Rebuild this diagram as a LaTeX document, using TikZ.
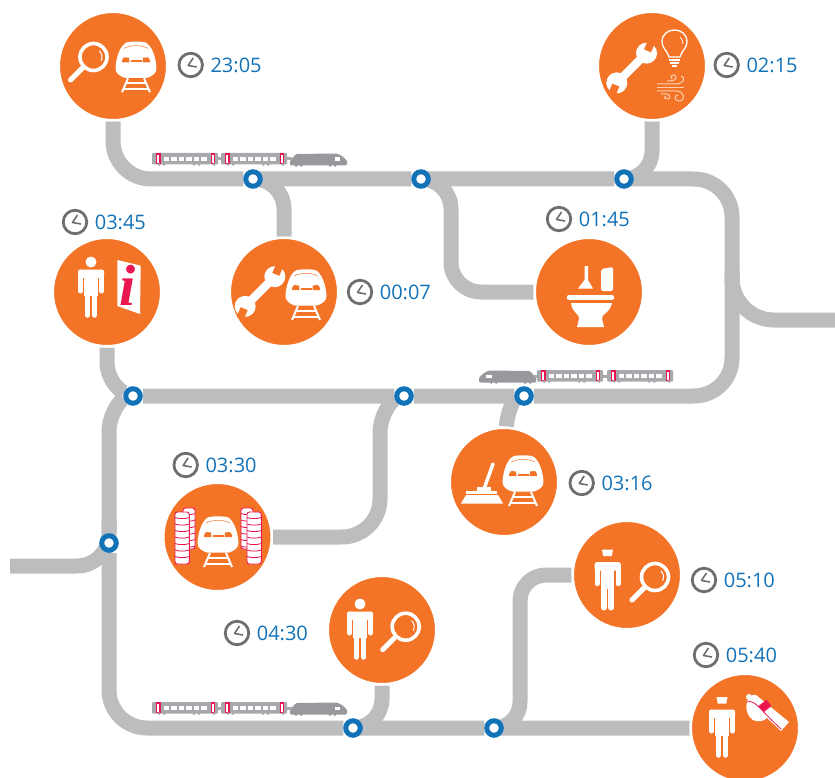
\documentclass[tikz,border=0pt]{standalone}
\usepackage{fontspec}
\setmainfont{Open Sans}
\newfontfamily\posterfont{Liberation Serif}
\usetikzlibrary{positioning,backgrounds}

\definecolor{stoporange}{HTML}{F47427}
\definecolor{trackgrey}{HTML}{BCBDBF}
\definecolor{hubblue}{HTML}{1272B8}
\definecolor{clockgrey}{HTML}{6D6E70}
\definecolor{cargrey}{HTML}{A7A9AC}
\definecolor{locogrey}{HTML}{98999C}
\definecolor{doorpink}{HTML}{E9164F}
\definecolor{windpeach}{HTML}{FBCFB0}

\tikzstyle{stop}=[circle,draw=white,fill=stoporange,line width=2.5pt,minimum size=108.5pt,inner sep=0pt]
\tikzstyle{hub}=[circle,draw=hubblue,fill=white,line width=5pt,minimum size=14.5pt,inner sep=0pt]
\tikzstyle{track}=[draw=trackgrey,line width=15pt,line join=round]
\tikzstyle{limb}=[white,line width=5.5pt,line cap=round]
\tikzstyle{timetext}=[text=hubblue,font=\fontsize{20}{20}\selectfont,inner sep=0pt]
\tikzstyle{clockface}=[circle,draw=clockgrey,line width=2.8pt,minimum size=23.5pt,inner sep=0pt,
  path picture={\draw[clockgrey,line width=1.6pt,line join=round] (path picture bounding box.center) +(2.5,-7) -- +(-2.5,0.5) -- +(6,2);}]

\tikzset{
  body/.pic={
    \fill[white,rounded corners=2.5pt] (-13,7.5) rectangle (13,16);
    \fill[white] (-6.7,9) rectangle (6.7,34);
    \draw[limb,line width=5pt] (-10.5,10) -- (-10.5,29) (10.5,10) -- (10.5,29);
    \draw[limb] (-3.7,30) -- (-3.7,53) (3.7,30) -- (3.7,53);
    \draw[stoporange,line width=1pt] (-7.5,16) -- (-7.5,32) (7.5,16) -- (7.5,32) (0,36) -- (0,58);
  },
  person/.pic={
    \pic {body};
    \fill[white] (0,0) circle (5.5);
  },
  guard/.pic={
    \pic {body};
    \fill[white] (-5.5,-5) -- (5.5,-5) -- (4.5,0.5) -- (-4.5,0.5) -- cycle;
    \fill[white] (-4.5,1.5) -- (4.5,1.5) arc (0:-180:4.5 and 4.5) -- cycle;
  },
  lens/.pic={
    \draw[white,line width=3.6pt] (0,0) circle (13.5);
    \draw[white,line width=5pt,line cap=round] (-11,11) -- (-23,23);
    \draw[white,line width=1pt,line cap=round] (6,-6) arc (-45:25:8.5);
  },
  spanner/.pic={
    \fill[white] (-18,-4.2) rectangle (18,4.2);
    \fill[white] (21,0) circle (10.5) (-21,0) circle (10.5);
    \fill[stoporange,rotate around={22:(21,0)}] (23.5,-3.8) rectangle (34,3.8);
    \fill[stoporange,rotate around={22:(-21,0)}] (-23.5,-3.8) rectangle (-34,3.8);
  },
  trainfront/.pic={
    \fill[white] (-9,0) .. controls (-15,2) and (-20,14) .. (-20.5,26) .. controls (-20.5,31) and (-16,34) .. (-11,35.5)
      -- (11,35.5) .. controls (16,34) and (20.5,31) .. (20.5,26) .. controls (20,14) and (15,2) .. (9,0) .. controls (3,-1) and (-3,-1) .. (-9,0) -- cycle;
    \fill[stoporange] (-14,18) -- (-12,15) -- (-7,15.5) -- (-6.5,20) -- (-14,20) -- cycle;
    \fill[stoporange] (14,18) -- (12,15) -- (7,15.5) -- (6.5,20) -- (14,20) -- cycle;
    \fill[stoporange] (-5.5,17.5) rectangle (5.5,20);
    \draw[stoporange,line width=.5pt] (-12,6) .. controls (-5,2.5) and (5,2.5) .. (12,6);
    \draw[white,line width=2pt] (-8,36) -- (-14,50) (8,36) -- (14,50);
    \draw[white,line width=2pt] (-11,41) -- (11,41) (-13,47) -- (13,47);
  },
  carriage/.pic={
    \fill[cargrey,rounded corners=1pt] (0,0) rectangle (66,11.5);
    \foreach \wx in {0,...,5} {
      \fill[white] ({11.5+\wx*7.5},4) rectangle +(5.8,3.6);
    }
    \foreach \dx in {4.3,59.2} {
      \filldraw[fill=white,draw=doorpink,line width=1.3pt] (\dx,1) rectangle +(3.6,9.3);
    }
    \foreach \wh in {7,12,42,47,62} {
      \fill[cargrey] (\wh,11.5) circle (1.5);
    }
  },
  loco/.pic={
    \fill[locogrey] (0,12) -- (0,8.5) .. controls (2,6) and (4,2) .. (7,1) -- (46,0.5) .. controls (50,1) and (55,5) .. (57,8) -- (57,11) .. controls (57,12) and (56,12.5) .. (55,12.5) -- (2,12.5) -- cycle;
    \fill[white] (44.5,4.5) rectangle +(5.5,3.8);
    \foreach \wh in {6,11,40,45} {
      \fill[locogrey] (\wh,12.5) circle (1.5);
    }
  }
}

\begin{document}
\begin{tikzpicture}[x=1pt,y=-1pt]
  \useasboundingbox (0,0) rectangle (835,778);
  % Stops
  \node[stop] (search) at (113,66) {};
  \node[stop] (repair) at (652,66) {};
  \node[stop] (workshop) at (284,292) {};
  \node[stop] (toilet) at (589,292) {};
  \node[stop] (info) at (107,292) {};
  \node[stop] (wash) at (217.5,537) {};
  \node[stop] (sweep) at (504,482) {};
  \node[stop] (inspect) at (627,575) {};
  \node[stop] (walk) at (382,630) {};
  \node[stop] (depart) at (745,728) {};
  % Hubs
  \node[hub] (hubA) at (253,179) {};
  \node[hub] (hubB) at (421,179) {};
  \node[hub] (hubC) at (624,179) {};
  \node[hub] (hubD) at (133,396) {};
  \node[hub] (hubE) at (404,396) {};
  \node[hub] (hubF) at (524,396) {};
  \node[hub] (hubG) at (109,543) {};
  \node[hub] (hubH) at (353,728) {};
  \node[hub] (hubI) at (494,728) {};
  % Bends and free ends
  \coordinate (neBend) at (732,179);
  \coordinate (seBend) at (732,396);
  \coordinate (nwTop) at (109,432);
  \coordinate (infoFoot) at (107,362);
  \coordinate (swBend) at (109,728);
  \coordinate (eastEnd) at (835,320);
  \coordinate (eastTop) at (732,270);
  \coordinate (westEnd) at (10,566);
  \coordinate (westTop) at (109,520);
  \coordinate (toiletBend) at (451,292);
  \coordinate (washTop) at (380,433);
  \coordinate (washBend) at (380,537);
  \coordinate (inspectBend) at (520,575);
  % Tracks
  \begin{scope}[on background layer]
    \draw[track,rounded corners=38pt] (search) |- (hubA) -- (hubB) -- (hubC) -- (neBend) -- (seBend) -- (hubF) -- (hubE) -- (hubD);
    \draw[track] (hubD) .. controls (120,400) and (109,415) .. (nwTop) -- (hubG);
    \draw[track,rounded corners=38pt] (hubG) -- (swBend) -- (hubH) -- (hubI) -- (depart);
    \draw[track,rounded corners=28pt] (repair) |- (hubC);
    \draw[track,rounded corners=30pt] (hubA) -| (workshop);
    \draw[track,rounded corners=30pt] (hubB) -| (toiletBend) -- (toilet);
    \draw[track] (info) -- (infoFoot) .. controls (107,378) and (118,390) .. (hubD);
    \draw[track] (hubE) .. controls (392,400) and (380,415) .. (washTop);
    \draw[track,rounded corners=38pt] (washTop) -- (washBend) -- (wash);
    \draw[track] (hubF) .. controls (515,398) and (507,412) .. (sweep);
    \draw[track,rounded corners=29pt] (hubH) -| (walk);
    \draw[track,rounded corners=26pt] (hubI) -| (inspectBend) [rounded corners=40pt] -- (inspect);
    \draw[track,rounded corners=42pt] (eastEnd) -| (eastTop);
    \draw[track,rounded corners=32pt] (westEnd) -| (westTop);
  \end{scope}
  % Trains
  \foreach \ty in {153,702} {
    \pic at (152,\ty) {carriage};
    \pic at (221,\ty) {carriage};
    \pic at (290,\ty) {loco};
    \fill[cargrey] (217,\ty+4.5) rectangle +(5,3);
    \fill[cargrey] (287,\ty+4.5) rectangle +(5,3);
  }
  \pic[xscale=-1] at (536,370) {loco};
  \pic at (537,370) {carriage};
  \pic at (607,370) {carriage};
  \fill[cargrey] (534,374.5) rectangle +(5,3);
  \fill[cargrey] (603,374.5) rectangle +(5,3);
  % Clocks and times
  \foreach \nm/\cx/\cy/\tm in {A/190.7/65/23:05,B/726.7/65/02:15,C/360/292/00:07,D/559/219/01:45,E/75/222/03:45,F/185.7/465/03:30,G/581.7/483/03:16,H/704/580/05:10,I/237/633/04:30,J/706/655/05:40} {
    \node[clockface] (clk\nm) at (\cx,\cy) {};
    \node[timetext,right=6.5pt of clk\nm] (time\nm) {\tm};
  }
  % Pictograms
  \pic at (93.5,57) {lens};
  \pic at (136,42.3) {trainfront};
  \pic[rotate=45] at (631.7,68) {spanner};
  \pic[rotate=45] at (260,291.5) {spanner};
  \pic at (306,270) {trainfront};
  \pic at (91,262) {person};
  \fill[white] (117.3,260) -- (140.7,265.7) -- (140,314) -- (117.3,306) -- cycle;
  \node[text=doorpink,font=\posterfont\bfseries\itshape\fontsize{58}{58}\selectfont,inner sep=0pt] (infoI) at (128,285) {i};
  % Bulb and wind
  \draw[white,line width=1.3pt] (669,57) .. controls (667,50) and (662,48) .. (662,42) .. controls (662,34) and (668,30) .. (674.5,30) .. controls (681,30) and (687,34) .. (687,42) .. controls (687,48) and (682,50) .. (680,57) -- cycle;
  \draw[white,line width=1.6pt] (669,60) -- (680,60) (670,63) -- (679,63) (672,66) -- (677,66);
  \draw[white,line width=.8pt] (680,37) .. controls (682,39) and (683,41) .. (683,44);
  \draw[windpeach,line width=1pt] (667,81) -- (670,81) .. controls (676,81) and (678,76) .. (674,75) .. controls (671,75) and (670,78) .. (672,79);
  \draw[windpeach,line width=1pt] (657,84) -- (676,84) .. controls (684,84) and (686,77) .. (681,76);
  \draw[windpeach,line width=1pt] (657,87.5) -- (684,87.5);
  \draw[windpeach,line width=1pt] (657,91) -- (676,91) .. controls (685,91) and (686,101) .. (679,101) .. controls (674,101) and (674,95) .. (678,95);
  \draw[windpeach,line width=1pt] (661,94) -- (666,94) .. controls (671,94) and (671,99) .. (667,99) .. controls (664,99) and (664,96) .. (666,96);
  % Toilet
  \fill[white] (584.5,266) -- (588,266) -- (588,280) -- (593,288.5) -- (578,288.5) -- (584.5,280) -- cycle;
  \fill[white,rounded corners=2pt] (601,269) -- (613,267) -- (613,291) -- (601,291) -- cycle;
  \draw[white,line width=4.5pt,line cap=round] (569,297.5) -- (612,297.5);
  \fill[white] (571,303) -- (612,303) .. controls (610,313) and (601,314) .. (602,319) -- (604,327) -- (577,327) -- (579,319) .. controls (580,314) and (572,313) .. (571,303) -- cycle;
  % Wash
  \foreach \sx/\sy/\sw/\sn/\sk in {183/508/12/41/6,175/512/14.3/52/7,241/508/12/41/6,247/512/14.3/52/7} {
    \filldraw[fill=white,draw=doorpink,line width=.9pt,rounded corners=2.5pt] (\sx,\sy) rectangle +(\sw,\sn);
    \foreach \k in {1,...,\sk} {
      \draw[doorpink,line width=.8pt] (\sx,{\sy+6.5*\k-1}) .. controls +(0.3*\sw,1.5) and +(-0.3*\sw,1.5) .. +(\sw,0);
    }
  }
  \pic at (218,517) {trainfront};
  % Sweep
  \draw[white,line width=3.5pt,line cap=round] (493,464) -- (484,489);
  \fill[white] (477,487) rectangle (491,491);
  \fill[white] (466,491) -- (497,491) -- (497,494) -- (466,494) -- cycle;
  \fill[white] (466,495) -- (498,495) -- (503,503.5) -- (461,503.5) -- cycle;
  \pic at (523,456) {trainfront};
  % Inspection
  \pic at (607.5,554.7) {guard};
  \pic at (655,577) {lens};
  \pic at (360,604) {person};
  \pic at (405.7,626.7) {lens};
  % Whistle
  \pic at (722,702) {guard};
  \fill[white] (749,697) circle (3);
  \fill[white] (756,695) -- (789,722) -- (781,731) -- (767,718) .. controls (763,722) and (757,722) .. (753,720) .. controls (747,716) and (745,708) .. (747,702) .. controls (748,697) and (752,694) .. (756,695) -- cycle;
  \draw[doorpink,line width=.8pt] (747,702) .. controls (755,699) and (760,710) .. (781,729);
  \fill[doorpink,rotate around={38:(765,706)}] (760,702) rectangle (770,710);
\end{tikzpicture}
\end{document}
